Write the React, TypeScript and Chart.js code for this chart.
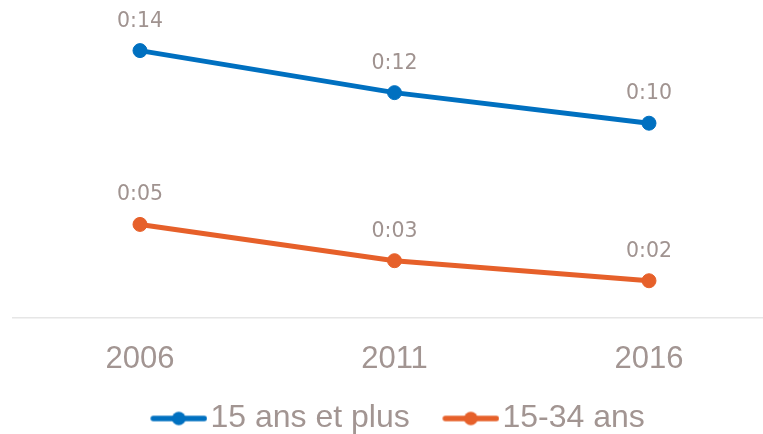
import React, { useEffect, useRef } from 'react';
import { Chart, registerables } from 'chart.js';

Chart.register(...registerables);

const categories = ['2006', '2011', '2016'];
const seriesNames = ['15 ans et plus', '15-34 ans'];
const series15Plus = [14.0, 11.8, 10.2]; // minutes per day
const series15to34 = [4.9, 3.0, 1.95]; // minutes per day
const seriesColors = ['#0070c0', '#e6602a'];

const fmt = (m: number) => {
  const r = Math.round(m);
  return `${Math.floor(r / 60)}:${String(r % 60).padStart(2, '0')}`;
};

const LEGEND_FONT = 32;
const LEGEND_PAD = 13.5;
const ICON_BOX = 63.3;
function legendIcon(color: string) {
  const c = document.createElement('canvas');
  const w = Math.round(ICON_BOX + 26);
  c.width = w;
  c.height = 16;
  const ctx = c.getContext('2d')!;
  ctx.strokeStyle = color;
  ctx.lineWidth = 5.5;
  ctx.lineCap = 'round';
  ctx.beginPath();
  ctx.moveTo(w - 54, 8);
  ctx.lineTo(w - 3, 8);
  ctx.stroke();
  ctx.fillStyle = color;
  ctx.beginPath();
  ctx.arc(w - 28.5, 8, 6.8, 0, Math.PI * 2);
  ctx.fill();
  return c;
}

const labelPlugin = {
  id: 'valueLabels',
  afterDatasetsDraw(chart: any) {
    const ctx = chart.ctx;
    ctx.save();
    ctx.font = '20.5px "DejaVu Sans"';
    ctx.fillStyle = '#a09390';
    ctx.textAlign = 'center';
    ctx.textBaseline = 'alphabetic';
    chart.data.datasets.forEach((ds: any, i: number) => {
      const meta = chart.getDatasetMeta(i);
      meta.data.forEach((pt: any, j: number) => {
        ctx.fillText(fmt(ds.data[j].y), pt.x, pt.y - 24);
      });
    });
    ctx.restore();
  },
};

export default function App() {
  const ref = useRef<HTMLCanvasElement>(null);
  useEffect(() => {
    document.body.style.margin = '0';
    const icons = seriesColors.map(legendIcon);
    const years = categories.map(Number);
    const chart = new Chart(ref.current!, {
      type: 'line',
      data: {
        datasets: [series15Plus, series15to34].map((vals, i) => ({
          label: seriesNames[i],
          data: vals.map((v, j) => ({ x: years[j], y: v })),
          borderColor: seriesColors[i],
          backgroundColor: seriesColors[i],
          borderWidth: 5,
          pointRadius: 7,
          pointBorderWidth: 1,
          tension: 0,
        })),
      },
      options: {
        animation: false,
        responsive: false,
        maintainAspectRatio: false,
        layout: { autoPadding: false, padding: { left: 13, right: 0, top: 0, bottom: -10.5 } },
        scales: {
          x: {
            type: 'linear',
            min: 2003.505,
            max: 2018.24,
            afterBuildTicks: (axis: any) => {
              axis.ticks = years.map((v) => ({ value: v }));
            },
            grid: { display: false, drawTicks: true, tickLength: 11 },
            border: { display: true, color: '#e6e6e6', width: 1.5 },
            ticks: {
              callback: (v: any) => String(v),
              font: { family: '"Liberation Sans"', size: 31, lineHeight: 1 },
              color: '#a29592',
              padding: 14.5,
              maxRotation: 0,
            },
          },
          y: {
            display: false,
            min: 0,
            max: 16.65,
          },
        },
        plugins: {
          tooltip: { enabled: false },
          legend: {
            position: 'bottom',
            labels: {
              usePointStyle: true,
              pointStyleWidth: ICON_BOX,
              padding: LEGEND_PAD,
              font: { family: '"Liberation Sans"', size: LEGEND_FONT },
              color: '#a29592',
              generateLabels: (ch: any) =>
                ch.data.datasets.map((ds: any, i: number) => ({
                  text: ds.label,
                  pointStyle: icons[i],
                  fillStyle: seriesColors[i],
                  strokeStyle: seriesColors[i],
                  lineWidth: 0,
                  hidden: false,
                  datasetIndex: i,
                  fontColor: '#a29592',
                })),
            },
          },
        },
      },
      plugins: [labelPlugin],
    });
    return () => chart.destroy();
  }, []);
  return (
    <div style={{ width: 763, height: 434 }}>
      <canvas ref={ref} width={763} height={434} style={{ display: 'block' }} />
    </div>
  );
}
